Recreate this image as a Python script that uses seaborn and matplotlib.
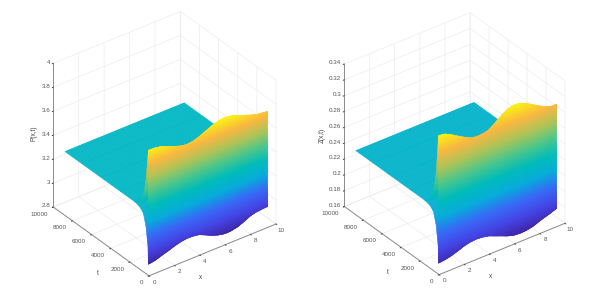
import numpy as np
import matplotlib
matplotlib.use("Agg")
import matplotlib.pyplot as plt
from matplotlib.transforms import Affine2D
import seaborn as sns
from mpl_toolkits.mplot3d import proj3d

# Values
X_NODES = [0, .5, 1, 1.5, 2, 2.5, 3, 3.5, 4, 4.5, 5, 5.5, 6, 6.5, 7, 7.5, 8, 8.5, 9, 9.4]
P_UPPER = [3.844, 3.842, 3.832, 3.812, 3.791, 3.772, 3.762, 3.768, 3.785, 3.81,
           3.833, 3.85, 3.857, 3.85, 3.833, 3.812, 3.792, 3.775, 3.768, 3.763]
P_LOWER = [2.892, 2.9, 2.918, 2.934, 2.952, 2.968, 2.976, 2.975, 2.966, 2.942,
           2.917, 2.898, 2.887, 2.888, 2.899, 2.92, 2.947, 2.96, 2.966, 2.968]
P_PLATEAU = 3.333
Z_UPPER = [.335, .334, .3298, .325, .3203, .316, .3142, .3145, .3165, .322,
           .3283, .333, .335, .334, .3303, .3255, .3209, .3165, .314, .3139]
Z_LOWER = [.1738, .1748, .1764, .179, .182, .184, .1847, .184, .1823, .179,
           .1758, .1725, .1702, .1695, .1699, .1715, .1746, .1772, .1798, .1822]
Z_PLATEAU = 0.241

T_PLATEAU = [8790, 7000, 5000, 3000, 1500]
T_WALL = 70
# how far each branch of the early transient stands from the plateau
UPPER_W = [0, .05, .27, .49, .77, 1]
UPPER_T = [1500, 940, 522, 313, 174, 70]
LOWER_W = [0, .03, .10, .32, .67, 1]
LOWER_T = [1500, 940, 592, 313, 111, 70]

X_TICKS = [0, 2, 4, 6, 8, 10]
T_TICKS = [0, 2000, 4000, 6000, 8000, 10000]
P_TICKS = [2.8, 3, 3.2, 3.4, 3.6, 3.8, 4]
P_LABELS = ["2.8", "3", "3.2", "3.4", "3.6", "3.8", "4"]
Z_TICKS = [.16, .18, .2, .22, .24, .26, .28, .3, .32, .34]
Z_LABELS = ["0.16", "0.18", "0.2", "0.22", "0.24", "0.26", "0.28", "0.3", "0.32", "0.34"]

COLORS = [(.24, .15, .66), (.27, .27, .9), (.22, .42, .97), (.03, .68, .86), (.0, .74, .73),
          (.3, .78, .55), (.68, .77, .35), (.98, .72, .26), (.98, .95, .08)]

sns.set_style("white", {"grid.color": "#ececec"})
plt.rcParams["font.family"] = ["Liberation Sans", "DejaVu Sans"]
plt.rcParams["grid.linewidth"] = 0.5
plt.rcParams["axes.linewidth"] = 0.6
cmap = sns.blend_palette(COLORS, n_colors=256, as_cmap=True)

fig = plt.figure(figsize=(6.15, 2.97), dpi=100)
W, H = 615, 297


def build(upper, lower, plateau):
    x = np.linspace(0, X_NODES[-1], 110)
    U = np.interp(x, X_NODES, upper)
    L = np.interp(x, X_NODES, lower)
    t_rows, z_rows = [], []
    for t in T_PLATEAU:
        t_rows.append(t); z_rows.append(np.full_like(x, plateau))
    for w in np.linspace(0, 1, 40)[1:]:
        t_rows.append(np.interp(w, UPPER_W, UPPER_T))
        z_rows.append(plateau + w * (U - plateau))
    for f in np.linspace(1, 0, 130)[1:]:
        t_rows.append(T_WALL)
        z_rows.append(L + f * (U - L))
    for w in np.linspace(1, 0, 40)[1:]:
        t_rows.append(np.interp(w, LOWER_W, LOWER_T))
        z_rows.append(plateau + w * (L - plateau))
    XX, TT = np.meshgrid(x, np.array(t_rows, dtype=float))
    return XX, TT, np.array(z_rows)


def nudge(ax, text, dx, dy):
    # mplot3d resets text transforms while drawing, so shift through the getter
    text.get_transform = lambda: ax.transData + Affine2D().translate(dx, dy)


def panel(upper, lower, plateau, zticks, zlabels, zname, zlabel_shift, targets):
    ax = fig.add_axes([0.1, 0.05, 280 / W, 280 / H], projection="3d")
    ax.set_proj_type("ortho")
    ax.view_init(elev=32.8, azim=-127)
    ax.set_box_aspect((159, 159, 171))
    ax.patch.set_alpha(0)
    ax.set_xlim(0, 10, view_margin=0)
    ax.set_ylim(0, 10000, view_margin=0)
    ax.set_zlim(zticks[0], zticks[-1], view_margin=0)

    XX, TT, ZZ = build(upper, lower, plateau)
    norm = plt.Normalize(ZZ.min(), ZZ.max())
    ax.plot_surface(XX, TT, ZZ, rcount=ZZ.shape[0], ccount=ZZ.shape[1],
                    facecolors=cmap(norm(ZZ)), shade=False,
                    linewidth=0.3, antialiased=True)

    ax.set_xticks(X_TICKS)
    ax.set_yticks(T_TICKS)
    ax.set_zticks(zticks)
    ax.set_zticklabels(zlabels)
    ax.tick_params(labelsize=4.5, colors="#555555", pad=-3.5, length=0)
    ax.tick_params(axis="z", pad=-1.5)
    ax.set_xlabel("x", fontsize=4.7, color="#444444", labelpad=-10, rotation=0)
    ax.set_ylabel("t", fontsize=4.7, color="#444444", labelpad=-10, rotation=0)
    ax.set_zlabel(zname, fontsize=4.7, color="#444444", labelpad=-9, rotation=90)
    for axis in (ax.xaxis, ax.yaxis, ax.zaxis):
        axis.set_pane_color((1, 1, 1, 0))
        axis.pane.set_edgecolor("#e8e8e8")
        axis.pane.set_linewidth(0.5)
        axis.line.set_color("#8c8c8c")
        axis.line.set_linewidth(0.7)
        axis.set_rotate_label(False)
        axis._axinfo["tick"]["inward_factor"] = 0.1
        axis._axinfo["tick"]["outward_factor"] = 0.0
    ax.zaxis.set_ticks_position("upper")
    ax.zaxis.set_label_position("upper")

    for tick in ax.xaxis.get_major_ticks():
        nudge(ax, tick.label1, 1, 5.5)
    for tick in ax.yaxis.get_major_ticks():
        tick.label1.set_ha("right")
        nudge(ax, tick.label1, 0, 4)
    for tick in ax.zaxis.get_major_ticks():
        tick.label1.set_ha("right")
        nudge(ax, tick.label1, 11, 2.5)
    nudge(ax, ax.xaxis.label, -22, -5)
    nudge(ax, ax.yaxis.label, 10, -11)
    nudge(ax, ax.zaxis.label, *zlabel_shift)

    # put the box where the reference has it
    fig.canvas.draw()
    def px(x, y, z):
        a, b, _ = proj3d.proj_transform(x, y, z, ax.get_proj())
        return ax.transData.transform((a, b))
    p_top = px(0, 10000, zticks[-1])
    p_right = px(10, 0, zticks[0])
    t_top, t_right = targets
    s = (t_right[0] - t_top[0]) / (p_right[0] - p_top[0])
    bb = ax.get_position()
    c = np.array([(bb.x0 + bb.width / 2) * W, (bb.y0 + bb.height / 2) * H])
    actual = np.array([(p_right[0] + p_top[0]) / 2, (p_right[1] + p_top[1]) / 2])
    want = np.array([(t_right[0] + t_top[0]) / 2, H - (t_right[1] + t_top[1]) / 2])
    c2 = want - s * (actual - c)
    side = bb.width * W * s
    ax.set_position([(c2[0] - side / 2) / W, (c2[1] - side / 2) / H, side / W, side / H])
    return ax


panel(P_UPPER, P_LOWER, P_PLATEAU, P_TICKS, P_LABELS, "P(x,t)", (7, 0),
      ((53.3, 63.3), (276, 224)))
panel(Z_UPPER, Z_LOWER, Z_PLATEAU, Z_TICKS, Z_LABELS, "Z(x,t)", (4, -2),
      ((344.3, 63.3), (565, 224)))

fig.savefig("out.png", dpi=100, facecolor="white")
